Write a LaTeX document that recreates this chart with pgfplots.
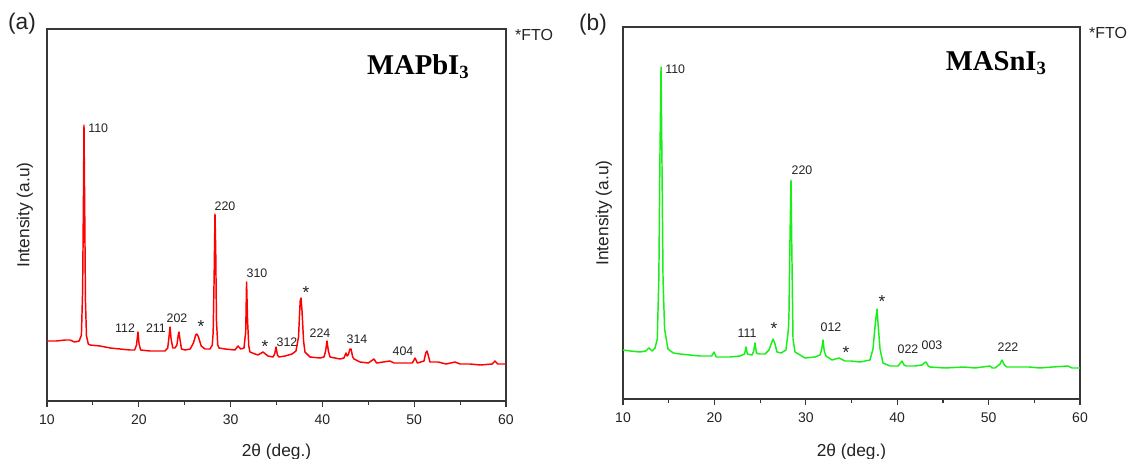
\documentclass[border=0pt]{standalone}
\usepackage{fontspec}
\setmainfont{Liberation Sans}
\newfontfamily\titlefont{Liberation Serif}
\usepackage{pgfplots}
\pgfplotsset{compat=1.18}

\definecolor{xrdred}{RGB}{255,0,0}
\definecolor{xrdgreen}{RGB}{25,238,25}
\definecolor{frame}{RGB}{55,55,55}
\definecolor{annot}{RGB}{35,35,35}

\pgfplotsset{
  xrd/.style={
    scale only axis,
    xmin=10, xmax=60, ymin=0, ymax=372,
    xtick={10,20,30,40,50,60},
    minor x tick num=1,
    ytick=\empty,
    tick align=outside,
    xtick pos=left,
    major tick length=4.5pt,
    minor tick length=3pt,
    axis line style={frame, line width=0.9pt},
    tick style={frame, line width=0.9pt},
    tick label style={font=\fontsize{10.5pt}{12pt}\selectfont, text=annot},
    xticklabel style={yshift=-2.5pt},
    /pgf/number format/assume math mode=true,
    xlabel={2θ (deg.)},
    ylabel={Intensity (a.u)},
    label style={font=\fontsize{13pt}{15pt}\selectfont, text=annot},
  },
}
\tikzset{
  hkl/.style={font=\fontsize{9.3pt}{10pt}\selectfont, text=annot, inner sep=0pt},
  star/.style={font=\fontsize{13pt}{14pt}\selectfont, text=annot, inner sep=0pt,
    anchor=base, yshift=-7.8pt},
  compound/.style={font=\titlefont\bfseries\fontsize{21.5pt}{24pt}\selectfont,
    text=black, inner sep=0pt, anchor=base},
}

% MAPbI3 pattern: 2theta (deg.), intensity (a.u.)
\pgfplotstableread{
tt I
10.00 60
11.00 60
12.00 61
12.50 61
13.00 59
13.50 60
13.75 66
13.88 110
13.97 200
14.03 276
14.10 200
14.19 100
14.30 65
14.50 57
14.68 56
15.77 55
16.90 53
17.95 52
19.04 51
19.55 51
19.75 56
19.91 69
20.03 57
20.20 51
21.22 50
22.30 50
22.85 50
23.15 53
23.30 65
23.40 74
23.52 62
23.70 53
23.94 53
24.15 56
24.30 66
24.38 69
24.48 62
24.65 52
25.03 51
25.60 52
25.95 58
26.20 66
26.34 67
26.50 64
26.80 55
27.21 52
27.76 52
28.00 56
28.10 68
28.20 120
28.30 187
28.38 150
28.46 80
28.60 56
28.74 53
29.39 52
30.48 51
30.81 55
31.10 52
31.46 53
31.65 70
31.74 119
31.85 80
31.98 55
32.11 49
32.66 47
32.98 46
33.53 49
34.07 45
34.62 44
34.80 47
34.95 54
35.10 46
35.27 44
35.93 45
36.69 47
37.12 50
37.40 64
37.58 100
37.67 103
37.78 90
37.95 60
38.10 49
38.65 44
39.74 43
40.17 44
40.35 50
40.50 60
40.65 50
40.83 44
41.37 43
41.92 42
42.35 43
42.57 48
42.70 45
42.85 47
43.00 52
43.12 52
43.30 44
43.44 42
44.10 39
45.00 38
45.62 42
45.90 38
47.36 40
47.80 38
48.89 38
49.80 38
50.09 43
50.35 38
51.07 40
51.25 48
51.39 50
51.55 45
51.72 39
52.59 39
53.50 37
54.44 39
55.00 37
56.08 37
57.20 36
58.50 37
58.80 40
59.10 37
60.00 37
}\pbdata

% MASnI3 pattern: 2theta (deg.), intensity (a.u.)
\pgfplotstableread{
tt I
10.00 49
10.80 48
11.86 47
12.50 48
12.84 51
13.20 48
13.50 51
13.75 60
13.92 120
14.05 250
14.16 332
14.25 250
14.38 120
14.55 70
14.92 50
15.50 46
16.24 45
17.30 44
18.42 43
19.70 43
19.96 47
20.20 42
21.71 42
22.80 43
23.30 45
23.46 52
23.60 45
24.12 44
24.30 48
24.44 56
24.60 46
24.90 45
25.54 45
25.97 49
26.41 60
26.60 56
26.85 47
27.30 46
27.83 49
28.10 70
28.16 86
28.27 160
28.38 219
28.47 150
28.60 60
28.82 47
29.91 41
31.01 42
31.55 44
31.75 50
31.88 59
32.02 48
32.21 43
32.87 39
33.63 41
34.29 38
34.95 38
35.93 37
37.02 39
37.35 50
37.60 75
37.79 90
37.95 70
38.12 50
38.45 36
39.21 33
40.09 33
40.35 36
40.53 38
40.75 34
40.96 33
41.95 33
42.71 34
42.95 36
43.15 37
43.40 33
43.59 32
45.23 31
47.31 32
48.51 31
50.15 33
50.40 31
50.70 31
51.25 35
51.47 39
51.72 34
52.01 32
54.42 32
55.62 31
57.00 32
58.69 33
59.12 31
60.00 31
}\sndata

\begin{document}
\begin{tikzpicture}
\useasboundingbox (0,0) rectangle (848.25pt,343.5pt);

% ---- (a) MAPbI3 ----
\begin{axis}[xrd,
  at={(35.25pt,42.75pt)}, anchor=south west,
  width=344.25pt, height=279pt,
  xlabel style={at={(axis description cs:0.5,-0.137)}, anchor=center},
  ylabel style={at={(axis description cs:-0.048,0.5)}, anchor=center},
]
\addplot[xrdred, line width=1.1pt, line join=round] table[x=tt, y=I] {\pbdata};
\node[hkl, anchor=west] at (axis cs:14.47,273) {110};
\node[hkl] at (axis cs:29.39,195) {220};
\node[hkl] at (axis cs:32.88,128) {310};
\node[hkl] at (axis cs:18.50,73) {112};
\node[hkl] at (axis cs:21.87,73) {211};
\node[hkl] at (axis cs:24.16,83) {202};
\node[hkl] at (axis cs:36.14,59) {312};
\node[hkl] at (axis cs:39.74,68) {224};
\node[hkl] at (axis cs:43.77,62) {314};
\node[hkl] at (axis cs:48.78,50) {404};
\node[star] at (axis cs:26.78,79) {*};
\node[star] at (axis cs:33.75,59) {*};
\node[star] at (axis cs:38.21,113) {*};
\node[compound] at (rel axis cs:0.808,0.879) {MAPbI{\fontsize{14pt}{14pt}\selectfont\raisebox{-3.5pt}{3}}};
\end{axis}

% ---- (b) MASnI3 ----
\begin{axis}[xrd,
  at={(467.25pt,44.25pt)}, anchor=south west,
  width=342.75pt, height=279pt,
  xlabel style={at={(axis description cs:0.5,-0.142)}, anchor=center},
  ylabel style={at={(axis description cs:-0.042,0.5)}, anchor=center},
]
\addplot[xrdgreen, line width=1.1pt, line join=round] table[x=tt, y=I] {\sndata};
\node[hkl, anchor=west] at (axis cs:14.60,330) {110};
\node[hkl] at (axis cs:29.58,229) {220};
\node[hkl] at (axis cs:23.57,66) {111};
\node[hkl] at (axis cs:32.76,72) {012};
\node[hkl] at (axis cs:41.18,50) {022};
\node[hkl] at (axis cs:43.81,54) {003};
\node[hkl] at (axis cs:52.12,52) {222};
\node[star] at (axis cs:26.52,75) {*};
\node[star] at (axis cs:34.40,51) {*};
\node[star] at (axis cs:38.34,102) {*};
\node[compound] at (rel axis cs:0.816,0.884) {MASnI{\fontsize{14pt}{14pt}\selectfont\raisebox{-3.5pt}{3}}};
\end{axis}

% panel tags and substrate marker
\node[font=\fontsize{17pt}{19pt}\selectfont, text=annot] at (16.5pt,325.5pt) {(a)};
\node[font=\fontsize{17pt}{19pt}\selectfont, text=annot] at (444.75pt,324.75pt) {(b)};
\node[font=\fontsize{12pt}{13pt}\selectfont, text=annot] at (400.5pt,317.25pt) {*FTO};
\node[font=\fontsize{12pt}{13pt}\selectfont, text=annot] at (831pt,318.75pt) {*FTO};
\end{tikzpicture}
\end{document}
